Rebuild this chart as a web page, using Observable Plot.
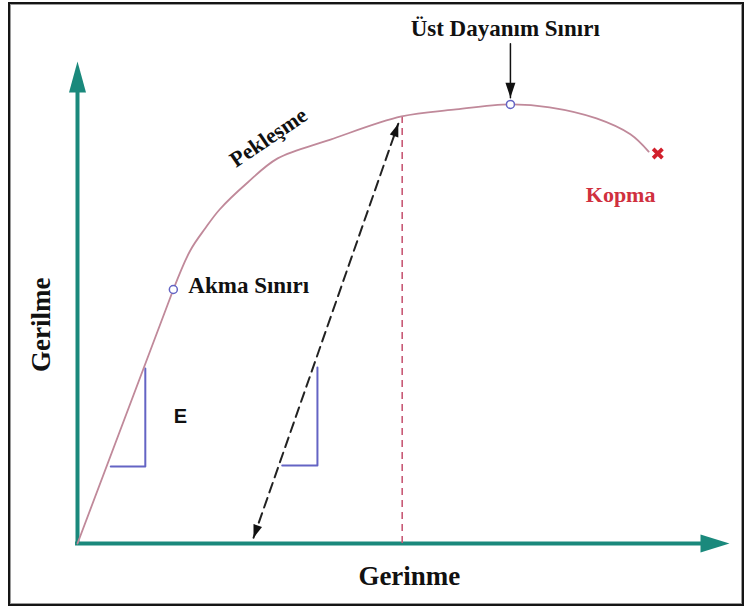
<!DOCTYPE html>
<html>
<head>
<meta charset="utf-8">
<script src="https://cdn.jsdelivr.net/npm/d3@7"></script>
<script src="https://cdn.jsdelivr.net/npm/@observablehq/plot@0.6"></script>
<style>
  html, body { margin: 0; padding: 0; background: #fff; }
  #wrap { position: relative; width: 748px; height: 608px; overflow: hidden; }
  #wrap svg { position: absolute; left: 0; top: 0; }
  #border { position: absolute; left: 8px; top: 2px; width: 736px; height: 604px; box-sizing: border-box;
            border: 2px solid #151515; box-shadow: inset 0 0 0 1px #9a9a9a; pointer-events: none; }
</style>
</head>
<body>
<div id="wrap"><div id="border"></div></div>
<script>
// ---- data (strain = x, stress = y, arbitrary units 0..100) ----
const elasticStrain = [0, 14.7];
const elasticStress = [0, 52.7];
const curveStrain = [14.7, 17.3, 19.6, 21.8, 26.1, 30.7, 38.8, 49.7, 57.7, 66.4, 72.4, 79.6, 84.8, 87.6];
const curveStress = [52.7, 60.8, 65.4, 69.3, 74.9, 79.9, 83.8, 88.6, 90.0, 91.1, 90.5, 88.2, 84.9, 81.3];
const yieldPoint = [14.7, 52.7];      // Akma Sınırı
const ultimatePoint = [66.4, 91.1];   // Üst Dayanım Sınırı
const fracturePoint = [89.0, 80.9];   // Kopma
const unloadStrain = [27.0, 49.2];    // dashed double arrow
const unloadStress = [1.2, 87.1];
const dropStrain = 49.8;              // red dashed vertical
const dropStress = 88.5;
const tri1Strain = [5.1, 10.4, 10.4];
const tri1Stress = [16.0, 16.0, 36.3];
const tri2Strain = [31.4, 36.8, 36.8];
const tri2Stress = [16.2, 16.2, 36.5];
const pointerStress = [103.7, 92.5];

const labelTexts = ["Üst Dayanım Sınırı", "Akma Sınırı", "Kopma", "Pekleşme", "Gerinme", "Gerilme", "E"];
const labelX = [65.6, 17.0, 83.3, 29.3, 50.9, -5.5, 15.8];
const labelY = [106.9, 53.6, 72.3, 84.2, -6.8, 45.4, 26.4];

// ---- helpers ----
const toRows = (xs, ys) => xs.map((x, i) => ({x, y: ys[i]}));
function head(len, half) {
  return { draw(ctx) { ctx.moveTo(0, 0); ctx.lineTo(half, len); ctx.lineTo(-half, len); ctx.closePath(); } };
}
const teal = "#1a897c";
const curveColor = "#c0899a";
const markColor = "#6464c4";
const serif = "'Liberation Serif', 'Times New Roman', serif";
const lbl = labelTexts.map((t, i) => ({t, x: labelX[i], y: labelY[i]}));

const chart = Plot.plot({
  width: 748, height: 608,
  marginLeft: 77, marginRight: 19, marginTop: 61, marginBottom: 65,
  x: {domain: [0, 100], axis: null},
  y: {domain: [0, 100], axis: null},
  style: {fontFamily: serif, background: "transparent"},
  marks: [
    // axes
    Plot.ruleX([0], {y1: 0, y2: 95, stroke: teal, strokeWidth: 4}),
    Plot.ruleY([0], {x1: -0.3, x2: 96, stroke: teal, strokeWidth: 4}),
    Plot.dot([{x: 0, y: 100}], {x: "x", y: "y", symbol: head(31, 8.5), fill: teal, stroke: "none", rotate: 0}),
    Plot.dot([{x: 100, y: 0}], {x: "x", y: "y", symbol: head(29, 9), fill: teal, stroke: "none", rotate: 90}),
    // slope triangles
    Plot.line(toRows(tri1Strain, tri1Stress), {x: "x", y: "y", stroke: markColor, strokeWidth: 2, curve: "linear"}),
    Plot.line(toRows(tri2Strain, tri2Stress), {x: "x", y: "y", stroke: markColor, strokeWidth: 2, curve: "linear"}),
    // red dashed vertical
    Plot.ruleX([dropStrain], {y1: 0, y2: dropStress, stroke: "#c85a76", strokeWidth: 1.6, strokeDasharray: "7,5"}),
    // dashed unloading double arrow
    Plot.line(toRows(unloadStrain, unloadStress), {x: "x", y: "y", stroke: "#222", strokeWidth: 2, strokeDasharray: "10,6"}),
    Plot.dot([{x: unloadStrain[1], y: unloadStress[1]}], {x: "x", y: "y", symbol: head(13, 4.5), fill: "#111", stroke: "none", rotate: 19}),
    Plot.dot([{x: unloadStrain[0], y: unloadStress[0]}], {x: "x", y: "y", symbol: head(13, 4.5), fill: "#111", stroke: "none", rotate: 199}),
    // stress-strain curve
    Plot.line(toRows(elasticStrain, elasticStress), {x: "x", y: "y", stroke: curveColor, strokeWidth: 1.8}),
    Plot.line(toRows(curveStrain, curveStress), {x: "x", y: "y", stroke: curveColor, strokeWidth: 1.8, curve: "catmull-rom"}),
    // pointer to ultimate strength
    Plot.line(toRows([ultimatePoint[0], ultimatePoint[0]], pointerStress), {x: "x", y: "y", stroke: "#111", strokeWidth: 1.5}),
    Plot.dot([{x: ultimatePoint[0], y: pointerStress[1]}], {x: "x", y: "y", symbol: head(15, 5), fill: "#111", stroke: "none", rotate: 180}),
    // points
    Plot.dot([{x: yieldPoint[0], y: yieldPoint[1]}, {x: ultimatePoint[0], y: ultimatePoint[1]}],
      {x: "x", y: "y", r: 4, stroke: markColor, fill: "white", strokeWidth: 1.5}),
    Plot.dot([{x: fracturePoint[0], y: fracturePoint[1]}], {x: "x", y: "y", symbol: "times", r: 4.3, stroke: "#d2202c", strokeWidth: 3.8}),
    // labels
    Plot.text([lbl[0]], {x: "x", y: "y", text: "t", fontSize: 23, fontWeight: "bold", fill: "#111", fontFamily: serif}),
    Plot.text([lbl[1]], {x: "x", y: "y", text: "t", fontSize: 23, fontWeight: "bold", fill: "#111", textAnchor: "start", fontFamily: serif}),
    Plot.text([lbl[2]], {x: "x", y: "y", text: "t", fontSize: 22, fontWeight: "bold", fill: "#d0303e", fontFamily: serif}),
    Plot.text([lbl[3]], {x: "x", y: "y", text: "t", fontSize: 22, fontWeight: "bold", fill: "#111", rotate: -34, fontFamily: serif}),
    Plot.text([lbl[4]], {x: "x", y: "y", text: "t", fontSize: 27, fontWeight: "bold", fill: "#111", fontFamily: serif}),
    Plot.text([lbl[5]], {x: "x", y: "y", text: "t", fontSize: 27, fontWeight: "bold", fill: "#111", rotate: -90, fontFamily: serif}),
    Plot.text([lbl[6]], {x: "x", y: "y", text: "t", fontSize: 20, fontWeight: "bold", fill: "#111", fontFamily: "'Liberation Sans', Arial, sans-serif"})
  ]
});
document.getElementById("wrap").insertBefore(chart, document.getElementById("border"));
</script>
</body>
</html>
